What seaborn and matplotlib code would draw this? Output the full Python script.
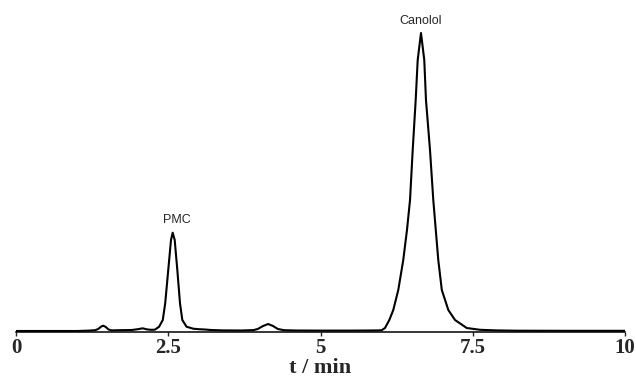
import pandas as pd
import matplotlib
matplotlib.use("Agg")
import matplotlib.pyplot as plt
import seaborn as sns

# Chromatogram trace (time in min, detector signal in arbitrary units)
time_min = [0.00, 0.50, 1.00, 1.20, 1.30, 1.35, 1.40, 1.43, 1.47, 1.52, 1.57, 1.70,
            1.90, 2.00, 2.08, 2.15, 2.22, 2.28, 2.35, 2.41, 2.45, 2.50, 2.545, 2.573,
            2.606, 2.649, 2.693, 2.731, 2.80, 2.91, 3.00, 3.10, 3.20, 3.40, 3.70, 3.90,
            3.97, 4.05, 4.14, 4.22, 4.30, 4.40, 4.60, 5.00, 5.50, 5.80, 5.95, 6.005,
            6.059, 6.13, 6.195, 6.277, 6.359, 6.42, 6.47, 6.514, 6.563, 6.596, 6.65,
            6.704, 6.732, 6.798, 6.852, 6.934, 6.992, 7.099, 7.209, 7.401, 7.62, 7.89,
            8.22, 9.00, 10.0]
signal = [0.0, 0.0, 0.0, 0.4, 0.8, 2.0, 4.5, 5.3, 4.2, 1.5, 0.6, 0.8,
          1.0, 1.8, 2.7, 1.6, 1.2, 1.3, 4.3, 11, 27.7, 61, 91, 98.3,
          91, 61, 27.7, 11, 4.3, 2.3, 1.8, 1.5, 1.0, 0.6, 0.5, 0.9,
          2.0, 4.8, 7.0, 5.0, 2.0, 0.8, 0.5, 0.4, 0.4, 0.5, 0.6, 0.8,
          3.0, 11, 21, 41, 71, 101, 131, 181, 231, 271, 298,
          271, 231, 181, 131, 71, 41, 21, 11, 3.0, 1.2, 0.6,
          0.3, 0.2, 0.2]

peak_names = ["PMC", "Canolol"]
peak_label_x = [2.64, 6.65]
peak_label_y = [108, 307]

xticks = [0, 2.5, 5, 7.5, 10]
xtick_labels = ["0", "2.5", "5", "7.5", "10"]

df = pd.DataFrame({"t": time_min, "signal": signal})

sns.set_style("white")

fig = plt.figure(figsize=(6.36, 3.80), dpi=100)
ax = fig.add_axes([16 / 636, 48 / 380, 609 / 636, 332 / 380])

sns.lineplot(data=df, x="t", y="signal", color="black", linewidth=1.5, ax=ax)

for name, px, py in zip(peak_names, peak_label_x, peak_label_y):
    ax.text(px, py, name, ha="center", va="baseline", fontsize=9,
            family="Liberation Sans")

ax.set_xlim(0, 10)
ax.set_ylim(-1, 331)
ax.set_xticks(xticks)
ax.set_xticklabels(xtick_labels, family="Liberation Serif", fontweight="bold", fontsize=15)
ax.set_yticks([])
ax.set_ylabel("")
ax.set_xlabel("t / min", family="Liberation Serif", fontweight="bold", fontsize=16, labelpad=0)
ax.tick_params(axis="x", direction="out", length=3, width=1, pad=1.5, bottom=True)

sns.despine(ax=ax, left=True)
ax.spines["bottom"].set_linewidth(1.1)
ax.spines["bottom"].set_color("black")
ax.patch.set_alpha(0)

fig.savefig("out.png", dpi=100)
plt.close(fig)
